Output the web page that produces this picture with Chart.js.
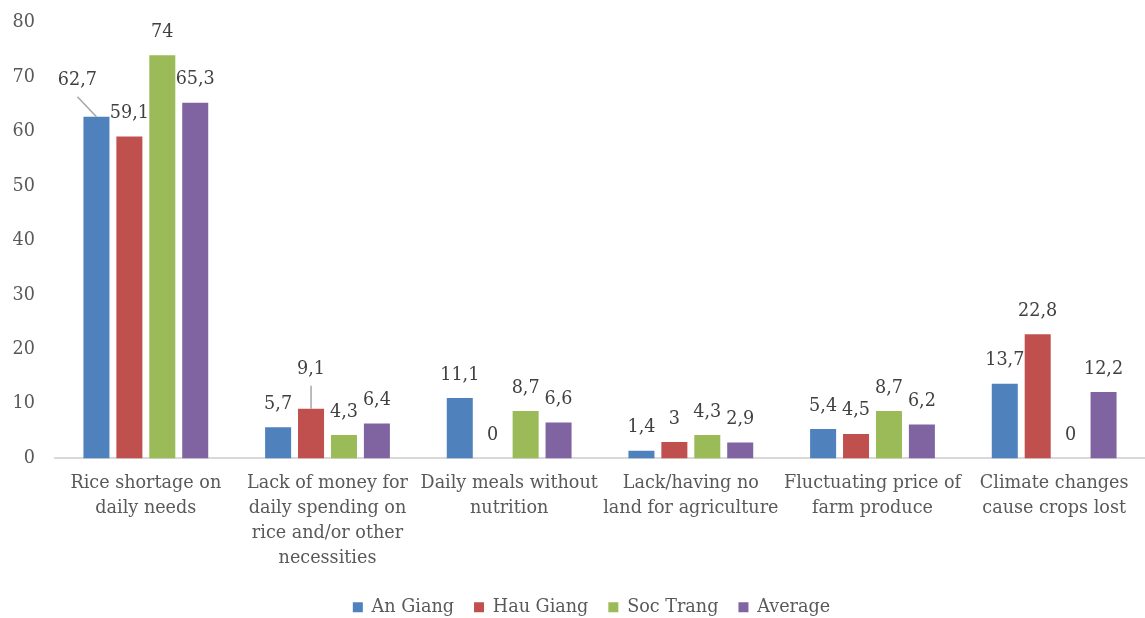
<!DOCTYPE html>
<html>
<head>
<meta charset="utf-8">
<script src="https://cdn.jsdelivr.net/npm/chart.js@4"></script>
<style>
  html, body { margin: 0; padding: 0; background: #fff; }
  #wrap { width: 1145px; height: 618px; }
</style>
</head>
<body>
<div id="wrap"><canvas id="myChart"></canvas></div>
<script>
  // categories (already split into lines)
  var categories = [
    ["Rice shortage on", "daily needs"],
    ["Lack of money for", "daily spending on", "rice and/or other", "necessities"],
    ["Daily meals without", "nutrition"],
    ["Lack/having no", "land for agriculture"],
    ["Fluctuating price of", "farm produce"],
    ["Climate changes", "cause crops lost"]
  ];
  var seriesNames = ["An Giang", "Hau Giang", "Soc Trang", "Average"];
  var anGiang  = [62.7, 5.7, 11.1, 1.4, 5.4, 13.7];
  var hauGiang = [59.1, 9.1, 0, 3, 4.5, 22.8];
  var socTrang = [74, 4.3, 8.7, 4.3, 8.7, 0];
  var average  = [65.3, 6.4, 6.6, 2.9, 6.2, 12.2];
  var yTicks = [0, 10, 20, 30, 40, 50, 60, 70, 80];

  var colors = ["#4F81BD", "#C0504D", "#9BBB59", "#8064A2"];
  var textColor = "#595959";
  var fontFamily = "'DejaVu Serif', serif";
  var fontSize = 17.6;

  // labels that were moved off their bar get a leader line
  var labelNudge = { "0-0": [-19, -13], "1-1": [0, -16] };

  var valueLabels = {
    id: "valueLabels",
    afterDatasetsDraw: function (chart) {
      var ctx = chart.ctx;
      ctx.save();
      ctx.font = fontSize + "px " + fontFamily;
      ctx.textAlign = "center";
      ctx.textBaseline = "middle";
      chart.data.datasets.forEach(function (ds, di) {
        var meta = chart.getDatasetMeta(di);
        meta.data.forEach(function (bar, i) {
          var v = ds.data[i];
          var nudge = labelNudge[di + "-" + i] || [0, 0];
          var lx = bar.x + nudge[0];
          var ly = bar.y - 23 + nudge[1];
          if (nudge[0] || nudge[1]) {
            ctx.strokeStyle = "#A6A6A6";
            ctx.lineWidth = 1.5;
            ctx.beginPath();
            ctx.moveTo(lx, ly + 16);
            ctx.lineTo(bar.x, bar.y);
            ctx.stroke();
          }
          ctx.fillStyle = "#404040";
          ctx.fillText(String(v).replace(".", ","), lx, ly);
        });
      });
      ctx.restore();
    }
  };

  // the legend sits a little right of the canvas centre
  var legendShift = {
    id: "legendShift",
    afterLayout: function (chart) {
      chart.legend.left += 19;
      chart.legend.right += 19;
    }
  };

  var seriesData = [anGiang, hauGiang, socTrang, average];
  var datasets = seriesNames.map(function (name, k) {
    return {
      label: name,
      data: seriesData[k],
      backgroundColor: colors[k],
      borderWidth: 0,
      barPercentage: 0.79,
      categoryPercentage: 0.725
    };
  });

  var ctx = document.getElementById("myChart");
  var myChart = new Chart(ctx, {
    type: "bar",
    data: { labels: categories, datasets: datasets },
    plugins: [valueLabels, legendShift],
    options: {
      responsive: true,
      maintainAspectRatio: false,
      animation: false,
      layout: { padding: { top: 18, right: 0, bottom: -8, left: 0 } },
      plugins: {
        tooltip: { enabled: false },
        legend: {
          position: "bottom",
          labels: {
            boxWidth: 10,
            boxHeight: 10,
            padding: 20,
            color: textColor,
            font: { family: fontFamily, size: fontSize }
          }
        }
      },
      scales: {
        x: {
          grid: { display: false },
          border: { color: "#D9D9D9", width: 2 },
          ticks: {
            color: textColor,
            maxRotation: 0,
            autoSkip: false,
            padding: 5,
            font: { family: fontFamily, size: fontSize, lineHeight: 1.42 }
          },
          afterFit: function (scale) { scale.height = 120; }
        },
        y: {
          min: 0,
          max: 80,
          grid: { display: false },
          border: { display: false },
          afterBuildTicks: function (scale) {
            scale.ticks = yTicks.map(function (t) { return { value: t }; });
          },
          ticks: {
            color: textColor,
            padding: 12,
            font: { family: fontFamily, size: fontSize }
          },
          afterFit: function (scale) { scale.width = 55; }
        }
      }
    }
  });
</script>
</body>
</html>
